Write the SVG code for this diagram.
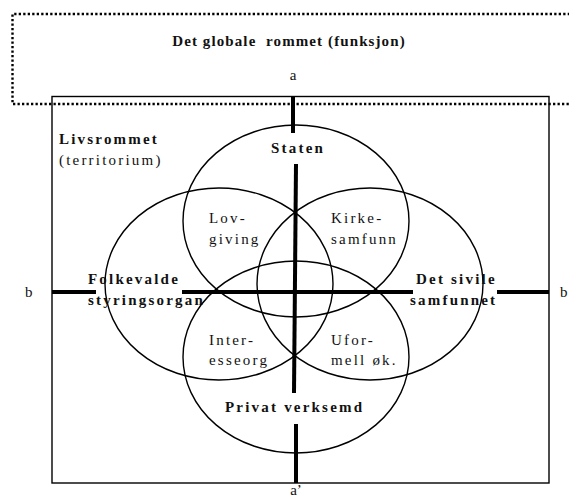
<svg xmlns="http://www.w3.org/2000/svg" width="569" height="500" viewBox="0 0 569 500">
<style>
.t{font-family:"Liberation Serif","Times New Roman",serif;fill:#111;}
.b{font-weight:bold;font-size:15px;letter-spacing:2.2px;}
.n{font-size:15px;letter-spacing:2.2px;}
.ax{font-size:15px;}
.e{fill:none;stroke:#000;stroke-width:1.4;}
.ln{stroke:#000;stroke-width:4;fill:none;}
</style>
<rect width="569" height="500" fill="#fff"/>
<g id="global">
<path d="M579,14 H12.5 V104 H579" fill="none" stroke="#000" stroke-width="2.4" stroke-dasharray="2.3 2.2"/>
<text class="t" x="289" y="46" text-anchor="middle" font-weight="bold" font-size="15" letter-spacing="1.1" xml:space="preserve">Det globale  rommet (funksjon)</text>
<text class="t ax" x="293" y="80" text-anchor="middle">a</text>
</g>
<g id="livsrommet">
<rect x="52" y="96.5" width="497" height="386.5" fill="none" stroke="#000" stroke-width="1.4"/>
<text class="t b" x="59" y="144" letter-spacing="2.8">Livsrommet</text>
<text class="t n" x="59" y="165" letter-spacing="2">(territorium)</text>
</g>
<g id="staten">
<ellipse class="e" cx="296" cy="221" rx="113" ry="96"/>
<text class="t b" x="271" y="153" letter-spacing="2">Staten</text>
</g>
<g id="folkevalde">
<ellipse class="e" cx="219" cy="284" rx="114" ry="96"/>
<text class="t b" x="88" y="284" letter-spacing="2.4">Folkevalde</text>
<text class="t b" x="88" y="305" letter-spacing="2.1">styringsorgan</text>
</g>
<g id="sivile">
<ellipse class="e" cx="370" cy="284" rx="113" ry="96"/>
<text class="t b" x="416" y="284" letter-spacing="1.8">Det sivile</text>
<text class="t b" x="410" y="305" letter-spacing="2.5">samfunnet</text>
</g>
<g id="privat">
<ellipse class="e" cx="296" cy="357" rx="113" ry="96"/>
<text class="t b" x="225" y="412" letter-spacing="1.9">Privat verksemd</text>
</g>
<g id="lovgiving">
<text class="t n" x="209" y="223">Lov-</text>
<text class="t n" x="209" y="244">giving</text>
</g>
<g id="kirkesamfunn">
<text class="t n" x="331" y="223">Kirke-</text>
<text class="t n" x="331" y="244">samfunn</text>
</g>
<g id="interesseorg">
<text class="t n" x="209" y="345">Inter-</text>
<text class="t n" x="209" y="365">esseorg</text>
</g>
<g id="uformell">
<text class="t n" x="331" y="345">Ufor-</text>
<text class="t n" x="331" y="365">mell øk.</text>
</g>
<g id="connectors">
<line class="ln" x1="293" y1="96" x2="293" y2="133"/>
<line class="ln" x1="296" y1="164" x2="294" y2="393"/>
<line class="ln" x1="296" y1="424" x2="296" y2="483"/>
<line class="ln" x1="52" y1="292" x2="96" y2="292"/>
<line class="ln" x1="182" y1="292" x2="413" y2="292"/>
<line class="ln" x1="497" y1="292" x2="549" y2="292"/>
</g>
<g id="labels">
<text class="t ax" x="25" y="297">b</text>
<text class="t ax" x="560" y="297">b</text>
<text class="t ax" x="296" y="495" text-anchor="middle">a’</text>
</g>
</svg>
